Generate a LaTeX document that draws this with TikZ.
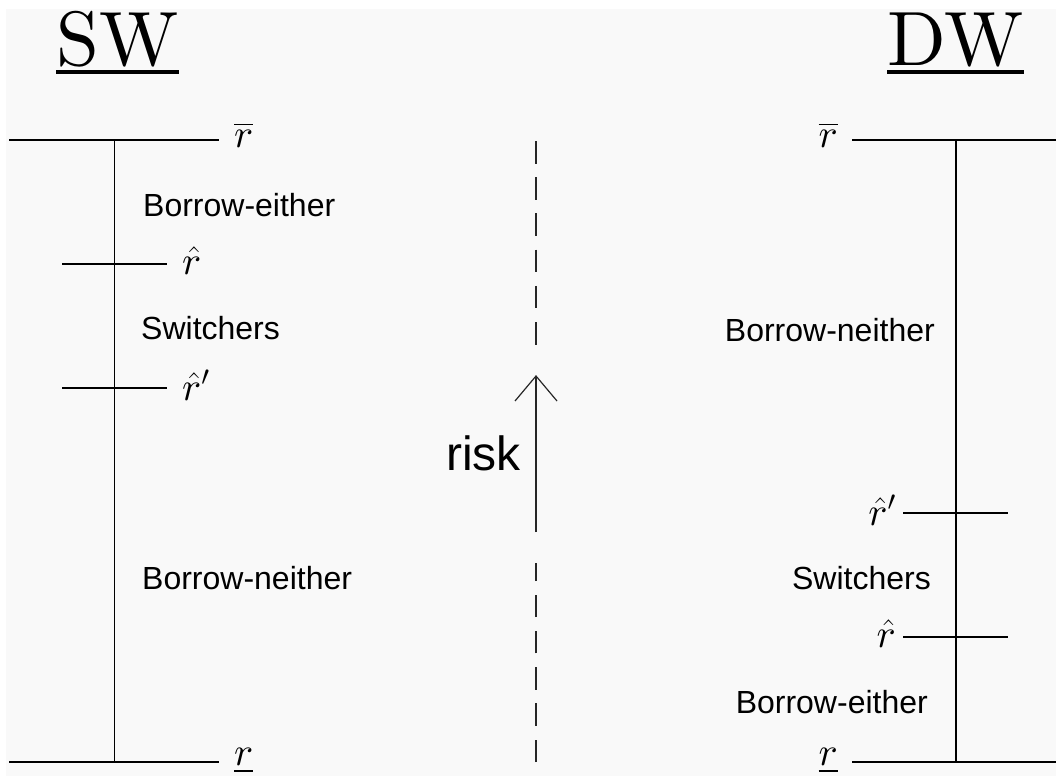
\RequirePackage{fix-cm}
\documentclass[tikz,border=0pt]{standalone}
\usepackage{fontspec}
\setsansfont{Liberation Sans}
\newfontfamily\lmten{lmroman10-regular.otf}
\DeclareFontShape{OML}{cmm}{m}{it}{<->cmmi10}{\skewchar\font=127}
\newcommand\myobar[1]{\vbox{\hrule height 1.7pt\kern4.5pt\hbox{$#1$}}}
\newcommand\myubar[1]{\vtop{\hbox{$#1$}\kern5pt\hrule height 1.7pt}}
\definecolor{bg}{HTML}{F9F9F9}
\tikzset{
  ax/.style={line width=1.5pt, color=black},
  lab/.style={font=\fontsize{40}{48}\selectfont, inner sep=0pt},
  txt/.style={font=\sffamily\fontsize{32}{38}\selectfont, inner sep=0pt},
  ttl/.style={font=\lmten\fontsize{77}{90}\selectfont, inner sep=0pt, anchor=base},
  uline/.style={line width=3.5pt},
  dashline/.style={line width=2pt, color=black!85, dash pattern=on 22.5pt off 13.7pt},
}
\begin{document}
\begin{tikzpicture}[x=1pt,y=-1pt]
\useasboundingbox (0,0) rectangle (1056,776);
\fill[bg] (6,9) rectangle (1056,776);
% titles
\node[ttl] (sw) at (117.5,65) {SW};
\node[ttl] (dw) at (955.5,65) {DW};
\draw[uline] ([yshift=-7pt]sw.base west) -- ([yshift=-7pt]sw.base east);
\draw[uline] ([yshift=-7pt]dw.base west) -- ([yshift=-7pt]dw.base east);
% ---------- left (SW) ----------
\coordinate (LTa) at (9,140);   \coordinate (LTb) at (219,140);
\coordinate (LBa) at (9,762);   \coordinate (LBb) at (219,762);
\coordinate (LV1) at (114.5,140); \coordinate (LV2) at (114.5,762);
\coordinate (LH1a) at (62,264); \coordinate (LH1b) at (167,264);
\coordinate (LH2a) at (62,388); \coordinate (LH2b) at (167,388);
\draw[ax] (LTa) -- (LTb);
\draw[ax] (LBa) -- (LBb);
\draw[ax] (LV1) -- (LV2);
\draw[ax] (LH1a) -- (LH1b);
\draw[ax] (LH2a) -- (LH2b);
\node[lab,anchor=base west] (lrbar) at (234,147) {\myobar{r}};
\node[lab,anchor=west] (lrhat) at (182,261) {$\hat{r}$};
\node[lab,anchor=west] (lrhatp) at (182,385) {$\hat{r}'$};
\node[lab,anchor=base west] (lrund) at (234,765) {\myubar{r}};
\node[txt,anchor=west] (lbe) at (143,205) {Borrow-either};
\node[txt,anchor=west] (lsw) at (141,328) {Switchers};
\node[txt,anchor=west] (lbn) at (142,578) {Borrow-neither};
% ---------- right (DW) ----------
\coordinate (RTa) at (852,140);  \coordinate (RTb) at (1056,140);
\coordinate (RBa) at (852,762);  \coordinate (RBb) at (1056,762);
\coordinate (RV1) at (956,140);  \coordinate (RV2) at (956,762);
\coordinate (RH1a) at (903,513); \coordinate (RH1b) at (1008,513);
\coordinate (RH2a) at (903,637); \coordinate (RH2b) at (1008,637);
\draw[ax] (RTa) -- (RTb);
\draw[ax] (RBa) -- (RBb);
\draw[ax] (RV1) -- (RV2);
\draw[ax] (RH1a) -- (RH1b);
\draw[ax] (RH2a) -- (RH2b);
\node[lab,anchor=base east] (rrbar) at (838,147) {\myobar{r}};
\node[lab,anchor=east] (rrhatp) at (896,510) {$\hat{r}'$};
\node[lab,anchor=east] (rrhat) at (896,634) {$\hat{r}$};
\node[lab,anchor=base east] (rrund) at (838,765) {\myubar{r}};
\node[txt,anchor=east] (rbn) at (935,330) {Borrow-neither};
\node[txt,anchor=east] (rsw) at (931,578) {Switchers};
\node[txt,anchor=east] (rbe) at (928,702) {Borrow-either};
% ---------- centre ----------
\coordinate (D1a) at (536,141); \coordinate (D1b) at (536,345);
\coordinate (D2a) at (536,762); \coordinate (D2b) at (536,563);
\draw[dashline] (D1a) -- (D1b);
\draw[dashline] (D2a) -- (D2b);
\coordinate (Atail) at (536,532); \coordinate (Ahead) at (536,376);
\coordinate (AL) at (515,401); \coordinate (AR) at (557,401);
\draw[ax, color=black!85] (Atail) -- (Ahead);
\draw[ax, color=black!85, line width=1.2pt] (AL) -- (Ahead) -- (AR);
\node[txt,anchor=east,font=\sffamily\fontsize{48}{56}\selectfont] (risk) at (521,453) {risk};
\end{tikzpicture}
\end{document}
